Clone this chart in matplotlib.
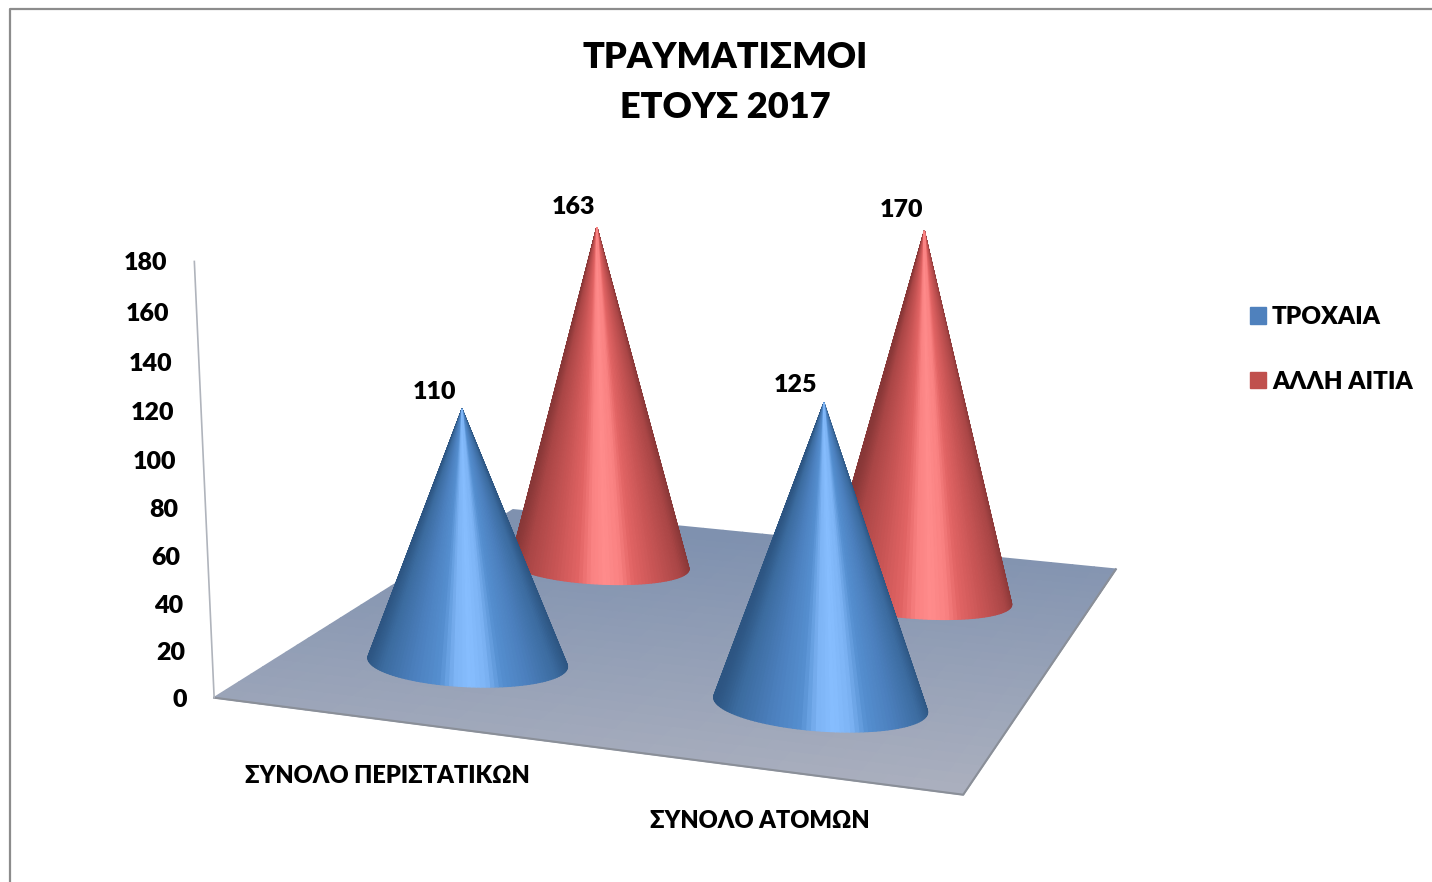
import numpy as np
import matplotlib
matplotlib.use('Agg')
import matplotlib.pyplot as plt
from matplotlib.patches import Patch
from mpl_toolkits.mplot3d import proj3d

plt.rcParams['font.family'] = ['Lato', 'Noto Sans', 'DejaVu Sans']
plt.rcParams['font.weight'] = 800

# data
categories = ['ΣΥΝΟΛΟ ΠΕΡΙΣΤΑΤΙΚΩΝ', 'ΣΥΝΟΛΟ ΑΤΟΜΩΝ']
series = ['ΤΡΟΧΑΙΑ', 'ΑΛΛΗ ΑΙΤΙΑ']
troxaia = [110, 125]
alli_aitia = [163, 170]
yticks = [0, 20, 40, 60, 80, 100, 120, 140, 160, 180]

# figure and camera
W, H = 1432, 882
S = 1100
elev, azim, roll, focal = 13.7123, -70.5994, -0.1164, 0.4317
box_x, box_y, zoom = 1.7366, 1.6919, 0.9606
shift_x, shift_y = 25.9341, 4.5077

fig = plt.figure(figsize=(W / 100, H / 100), dpi=100)
ax = fig.add_axes([(660 + shift_x - S / 2) / W, 1 - (441 + shift_y + S / 2) / H, S / W, S / H], projection='3d')
ax.set_xlim(0, 2)
ax.set_ylim(0, 2)
ax.set_zlim(0, 180)
ax.set_axis_off()
ax.computed_zorder = False
ax.view_init(elev=elev, azim=azim, roll=roll)
ax.set_proj_type('persp', focal_length=focal)
ax.set_box_aspect((box_x, box_y, 1), zoom=zoom)
ax.apply_aspect()

def to2d(x, y, z):
  xs, ys, _ = proj3d.proj_transform(x, y, z, ax.get_proj())
  return xs, ys

# floor, shaded by its height on the page
fx, fy = np.meshgrid(np.linspace(0, 2, 31), np.linspace(0, 2, 31))
xs, ys = to2d(fx.ravel(), fy.ravel(), 0 * fx.ravel())
py = H - ax.transData.transform(np.c_[xs, ys])[:, 1]
py = py.reshape(fx.shape)
t = np.clip((py[:-1, :-1] - 540) / 250, 0, 1)[..., None]
fc = np.array([127, 145, 175, 255]) / 255 * (1 - t) + np.array([170, 175, 190, 255]) / 255 * t
ax.plot_surface(fx, fy, 0 * fx, facecolors=fc, shade=False, rstride=1, cstride=1, linewidth=1.2, zorder=1)
ax.plot([0, 2, 2], [0, 0, 2], [0, 0, 0], color='#8a8f98', lw=1.5, zorder=1.1)
ax.plot([0, 0], [0, 0], [0, 180], color='#b0b4bc', lw=1.2, zorder=1.1)

# cones
def cone(x0, y0, h, stops, z):
  th = np.linspace(0, 2 * np.pi, 145)
  R, T = np.meshgrid([1, 0], th, indexing='ij')
  Z = np.array([0, h])[:, None] * np.ones_like(T)
  X = x0 + .283 * R * np.cos(T)
  Y = y0 + .2 * R * np.sin(T)
  mid = (th[:-1] + th[1:]) / 2
  u = np.abs(np.sin(mid - np.radians(azim)))
  cols = np.array([np.interp(u, stops[0], [s[i] for s in stops[1]]) for i in range(3)]).T / 255
  fcs = np.c_[cols, np.ones(len(cols))][None, ...]
  ax.plot_surface(X, Y, Z, facecolors=fcs, shade=False, rstride=1, cstride=1, linewidth=.9, zorder=z)

blue = ([0, .15, .3, .55, .85, 1], [(135, 190, 255), (125, 180, 245), (85, 143, 208), (76, 128, 190), (60, 108, 160), (45, 85, 130)])
red = ([0, .15, .3, .55, .85, 1], [(255, 140, 140), (250, 130, 130), (225, 100, 100), (200, 85, 85), (170, 70, 70), (135, 55, 55)])
for i in range(2):
  cone(i + .5, 1.5, alli_aitia[i], red, 2 + i * .1)
for i in range(2):
  cone(i + .5, .5, troxaia[i], blue, 3 + i * .1)

# value labels and axis labels
for i in range(2):
  ax.annotate(str(troxaia[i]), to2d(i + .5, .5, troxaia[i]), xytext=(-28, 18), textcoords='offset pixels', ha='center', va='center', fontsize=18, zorder=5)
  ax.annotate(str(alli_aitia[i]), to2d(i + .5, 1.5, alli_aitia[i]), xytext=(-23, 21), textcoords='offset pixels', ha='center', va='center', fontsize=18, zorder=5)
for v in yticks:
  ax.annotate(str(v), to2d(0, 0, v), xytext=(-27, -2), textcoords='offset pixels', ha='right', va='center', fontsize=18, zorder=5)

fig.text(387 / W, 1 - 776 / H, categories[0], ha='center', va='center', fontsize=17)
fig.text(760 / W, 1 - 821 / H, categories[1], ha='center', va='center', fontsize=17)
fig.text(725 / W, 1 - 57 / H, 'ΤΡΑΥΜΑΤΙΣΜΟΙ', ha='center', va='center', fontsize=26)
fig.text(725 / W, 1 - 108 / H, 'ΕΤΟΥΣ 2017', ha='center', va='center', fontsize=26)

fig.legend(handles=[Patch(color='#4f81bd'), Patch(color='#c0504d')], labels=series, frameon=False, fontsize=17.5,
  loc='upper left', bbox_to_anchor=(1250 / W, 1 - 306 / H), handlelength=.66, handleheight=.66, handletextpad=.25, labelspacing=1.75, borderpad=0, borderaxespad=0)

# frame
fig.add_artist(plt.Line2D([10 / W, 10 / W, 1], [0, 1 - 9 / H, 1 - 9 / H], color='#8c8c8c', lw=1.6))

plt.savefig('out.png', dpi=100)
